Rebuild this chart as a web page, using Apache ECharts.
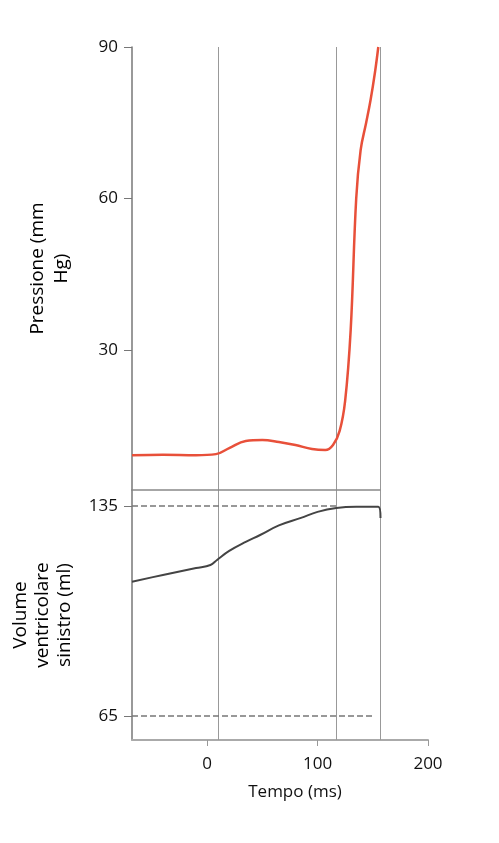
<!DOCTYPE html>
<html><head><meta charset="utf-8">
<script src="https://cdn.jsdelivr.net/npm/echarts@6/dist/echarts.min.js"></script>
<style>html,body{margin:0;padding:0;background:#fff}#c{width:499px;height:843px}</style>
</head><body><div id="c"></div>
<script>
var pressureTime = [-68, -40, -10, 8, 20, 35, 50, 65, 80, 95, 107, 114, 120, 125, 130, 135, 139, 144, 148, 152, 155];
var pressureVal  = [9.2, 9.3, 9.2, 9.4, 10.6, 12.0, 12.2, 11.8, 11.2, 10.4, 10.2, 11.2, 14, 20, 34, 60, 69.6, 75, 79.5, 85, 90];
var volumeTime = [-68, -40, -10, 3, 9, 20, 35, 48, 65, 85, 100, 117, 135, 155, 157];
var volumeVal  = [109.7, 112, 114.3, 115.3, 117, 120, 123, 125.3, 128.5, 131, 133, 134.3, 134.7, 134.7, 131];
var markerTimes = [10, 117, 157];
var pressureTicks = [30, 60, 90];
var volumeTicks = [65, 135];
var xTicks = [0, 100, 200];

var gray = '#777';
var vLines = markerTimes.map(function(t){return {xAxis:t};});
var chart = echarts.init(document.getElementById('c'));
chart.setOption({
  animation:false,
  grid:[{left:132, right:71, top:47, height:443},
        {left:132, right:71, top:490, height:250}],
  xAxis:[
    {gridIndex:0, type:'value', min:-68, max:200, show:false, axisLine:{onZero:false}},
    {gridIndex:1, type:'value', min:-68, max:200,
     name:'Tempo (ms)', nameLocation:'middle', nameGap:44,
     nameTextStyle:{fontSize:17, color:'#111', fontFamily:'Open Sans', padding:[0,0,0,30]},
     axisLine:{onZero:false, lineStyle:{color:'#aaa', width:2}},
     axisTick:{customValues:xTicks, length:6, lineStyle:{color:'#999'}},
     axisLabel:{customValues:xTicks, fontSize:17, color:'#111', fontFamily:'Open Sans', margin:16},
     splitLine:{show:false}}
  ],
  yAxis:[
    {gridIndex:0, type:'value', min:2.3, max:90,
     name:'Pressione (mm\nHg)', nameLocation:'middle', nameGap:58, nameRotate:90,
     nameTextStyle:{fontSize:19, color:'#000', fontFamily:'Open Sans', lineHeight:24},
     axisLine:{show:true, onZero:false, lineStyle:{color:gray, width:1.5}},
     axisTick:{show:true, customValues:pressureTicks, length:8, lineStyle:{color:gray}},
     axisLabel:{customValues:pressureTicks, fontSize:17, color:'#111', fontFamily:'Open Sans', margin:14},
     splitLine:{show:false}},
    {gridIndex:1, type:'value', min:57, max:140.3,
     name:'Volume\nventricolare\nsinistro (ml)', nameLocation:'middle', nameGap:56, nameRotate:90,
     nameTextStyle:{fontSize:19, color:'#000', fontFamily:'Open Sans', lineHeight:22},
     axisLine:{show:true, onZero:false, lineStyle:{color:gray, width:1.5}},
     axisTick:{show:true, customValues:volumeTicks, length:8, lineStyle:{color:gray}},
     axisLabel:{customValues:volumeTicks, fontSize:17, color:'#111', fontFamily:'Open Sans', margin:14},
     splitLine:{show:false}}
  ],
  series:[
    {type:'line', xAxisIndex:0, yAxisIndex:0, smooth:0.4, symbol:'none',
     data:pressureTime.map(function(t,i){return [t,pressureVal[i]];}),
     lineStyle:{color:'#e8503a', width:2.5}, z:5,
     markLine:{silent:true, symbol:'none', label:{show:false},
       lineStyle:{color:'#999', width:1, type:'solid'}, data:vLines}},
    {type:'line', xAxisIndex:1, yAxisIndex:1, smooth:0.4, symbol:'none',
     data:volumeTime.map(function(t,i){return [t,volumeVal[i]];}),
     lineStyle:{color:'#444', width:2}, z:5,
     markLine:{silent:true, symbol:'none', label:{show:false},
       lineStyle:{color:'#999', width:1, type:'solid'},
       data:vLines.concat([
         [{coord:[-68,140.3]},{coord:[157,140.3], lineStyle:{color:'#888', width:1.5}}],
         [{coord:[-68,135], lineStyle:{type:'dashed', color:'#777', width:1.5}},{coord:[117,135]}],
         [{coord:[-68,65], lineStyle:{type:'dashed', color:'#777', width:1.5}},{coord:[150,65]}]
       ])}}
  ]
});
</script></body></html>
